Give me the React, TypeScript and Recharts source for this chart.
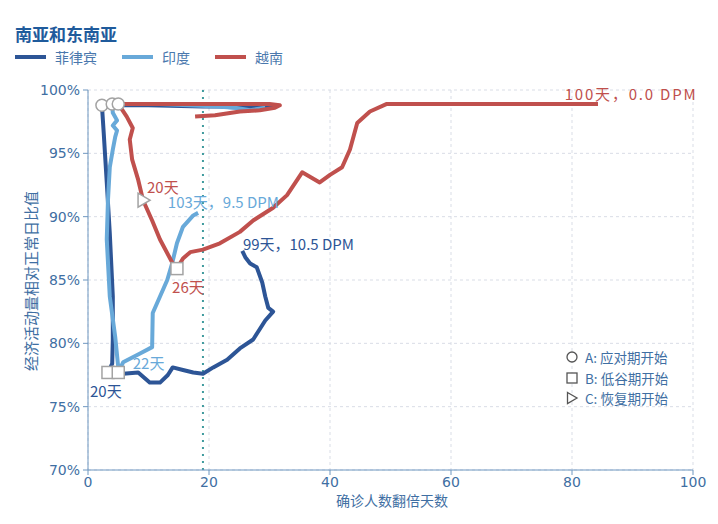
import React from 'react';
import { ComposedChart, Line, Scatter, XAxis, YAxis, CartesianGrid, ReferenceLine } from 'recharts';

const xTicks = [0, 20, 40, 60, 80, 100];
const yTicks = [70, 75, 80, 85, 90, 95, 100];

const philippines = [
  { x: 31.4, y: 98.8 }, { x: 28.4, y: 98.6 }, { x: 25.1, y: 98.6 }, { x: 21.8, y: 98.7 },
  { x: 19.0, y: 98.7 }, { x: 10.0, y: 98.8 }, { x: 2.3, y: 98.8 },
  { x: 2.6, y: 96.6 }, { x: 3.1, y: 92.7 }, { x: 3.6, y: 88.7 }, { x: 4.1, y: 83.7 },
  { x: 4.1, y: 80.3 }, { x: 4.0, y: 78.4 }, { x: 3.3, y: 77.7 },
  { x: 5.8, y: 77.6 }, { x: 8.3, y: 77.7 }, { x: 10.2, y: 76.9 }, { x: 11.9, y: 76.9 },
  { x: 13.2, y: 77.5 }, { x: 14.0, y: 78.1 }, { x: 15.7, y: 77.9 }, { x: 17.4, y: 77.7 },
  { x: 19.0, y: 77.6 }, { x: 20.7, y: 78.1 }, { x: 23.0, y: 78.7 }, { x: 25.1, y: 79.6 },
  { x: 27.3, y: 80.3 }, { x: 29.3, y: 81.8 }, { x: 30.6, y: 82.5 }, { x: 29.8, y: 82.8 },
  { x: 29.3, y: 83.7 }, { x: 28.8, y: 84.8 }, { x: 27.9, y: 86.0 }, { x: 26.8, y: 86.3 },
  { x: 26.0, y: 86.8 }, { x: 25.5, y: 87.3 },
];

const india = [
  { x: 29.3, y: 98.6 }, { x: 26.8, y: 98.4 }, { x: 24.3, y: 98.6 }, { x: 21.3, y: 98.7 },
  { x: 12.0, y: 98.9 }, { x: 4.0, y: 98.9 },
  { x: 4.1, y: 98.2 }, { x: 4.8, y: 97.6 }, { x: 4.1, y: 97.2 }, { x: 4.8, y: 96.8 },
  { x: 4.5, y: 96.3 }, { x: 4.1, y: 95.3 }, { x: 3.6, y: 93.9 }, { x: 3.3, y: 91.3 },
  { x: 3.1, y: 88.2 }, { x: 3.6, y: 83.7 }, { x: 4.5, y: 80.5 }, { x: 5.0, y: 78.1 },
  { x: 5.0, y: 77.7 },
  { x: 5.8, y: 78.5 }, { x: 8.6, y: 79.2 }, { x: 10.6, y: 79.7 }, { x: 10.7, y: 82.4 },
  { x: 11.9, y: 83.7 }, { x: 13.1, y: 85.0 }, { x: 13.9, y: 86.3 }, { x: 14.7, y: 87.9 },
  { x: 15.7, y: 89.2 }, { x: 17.4, y: 90.1 }, { x: 18.2, y: 90.3 },
];

const vietnam = [
  { x: 17.7, y: 97.9 }, { x: 21.0, y: 98.0 }, { x: 25.1, y: 98.3 }, { x: 28.4, y: 98.4 },
  { x: 30.9, y: 98.6 }, { x: 31.7, y: 98.8 }, { x: 30.0, y: 98.9 }, { x: 18.5, y: 98.9 },
  { x: 5.0, y: 98.9 },
  { x: 6.4, y: 97.9 }, { x: 7.4, y: 97.0 }, { x: 6.9, y: 96.1 }, { x: 7.3, y: 94.5 },
  { x: 8.3, y: 92.9 }, { x: 9.1, y: 91.3 }, { x: 10.6, y: 89.7 }, { x: 11.9, y: 88.2 },
  { x: 13.9, y: 86.4 }, { x: 14.7, y: 85.9 },
  { x: 15.7, y: 86.7 }, { x: 16.9, y: 87.2 }, { x: 19.0, y: 87.4 }, { x: 21.8, y: 87.9 },
  { x: 25.1, y: 88.8 }, { x: 27.3, y: 89.7 }, { x: 30.6, y: 90.7 }, { x: 32.9, y: 91.7 },
  { x: 35.4, y: 93.5 }, { x: 38.3, y: 92.7 }, { x: 40.0, y: 93.3 }, { x: 42.0, y: 93.9 },
  { x: 43.3, y: 95.3 }, { x: 44.5, y: 97.4 }, { x: 46.6, y: 98.3 }, { x: 49.4, y: 98.9 },
  { x: 84.3, y: 98.9 },
];

const pointsA = [{ x: 2.3, y: 98.8 }, { x: 4.0, y: 98.9 }, { x: 5.0, y: 98.9 }];
const pointsB = [{ x: 3.3, y: 77.7 }, { x: 5.0, y: 77.7 }, { x: 14.7, y: 85.9 }];
const pointsC = [{ x: 9.1, y: 91.3 }];

const annotations = [
  { x: 9.75, y: 92.4, text: '20天', series: 'vn' },
  { x: 13.2, y: 91.16, text: '103天，9.5 DPM', series: 'in' },
  { x: 25.6, y: 87.9, text: '99天，10.5 DPM', series: 'ph' },
  { x: 13.9, y: 84.45, text: '26天', series: 'vn' },
  { x: 7.4, y: 78.5, text: '22天', series: 'in' },
  { x: 0.33, y: 76.3, text: '20天', series: 'ph' },
  { x: 78.8, y: 99.76, text: '100天，0.0 DPM', series: 'vn' },
];

const COLORS: Record<string, string> = { ph: '#2d5596', in: '#68a9d9', vn: '#c0504d' };
const seriesNames = [
  { key: 'ph', name: '菲律宾' },
  { key: 'in', name: '印度' },
  { key: 'vn', name: '越南' },
];
const markerLegend = ['A: 应对期开始', 'B: 低谷期开始', 'C: 恢复期开始'];

const FONT = '"Noto Sans CJK SC", "Noto Sans", sans-serif';
const AXIS = '#6f97c0';
const TICK = '#3f6fa3';
const MARK = '#a3a3a3';

const circleShape = (p: any) => (
  <circle cx={p.cx} cy={p.cy} r={6} fill="#fff" stroke={MARK} strokeWidth={1.5} />
);
const squareShape = (p: any) => (
  <rect x={p.cx - 6} y={p.cy - 6} width={12} height={12} fill="#fff" stroke={MARK} strokeWidth={1.5} />
);
const triShape = (p: any) => (
  <path d={`M${p.cx - 5},${p.cy - 7} L${p.cx + 7},${p.cy} L${p.cx - 5},${p.cy + 7} Z`} fill="#fff" stroke={MARK} strokeWidth={1.5} />
);
const labelShape = (p: any) => {
  const a = p.payload;
  const big = a.text.startsWith('100天');
  return (
    <text x={p.cx} y={p.cy} dominantBaseline="central" fill={COLORS[a.series]} fontSize={15} letterSpacing={big ? 1.8 : 0} fontFamily={FONT}>
      {a.text}
    </text>
  );
};

export default function App() {
  return (
    <div style={{ position: 'absolute', left: 0, top: 0, width: 718, height: 524, background: '#fff', fontFamily: FONT }}>
      <div style={{ position: 'absolute', left: 15, top: 21, fontSize: 17, fontWeight: 700, color: '#1f5b9c' }}>南亚和东南亚</div>
      {seriesNames.map((s, i) => {
        const lx = [15, 122, 215][i];
        return (
          <div key={s.key} style={{ position: 'absolute', left: lx, top: 47, height: 20, display: 'flex', alignItems: 'center' }}>
            <div style={{ width: 31, height: 4, background: COLORS[s.key], marginRight: 9 }} />
            <span style={{ fontSize: 14, color: '#4a78ad' }}>{s.name}</span>
          </div>
        );
      })}
      <ComposedChart width={718} height={524} margin={{ top: 90, right: 25, bottom: 24, left: 28 }}>
        <CartesianGrid stroke="#d9dde6" strokeDasharray="3 3" />
        <XAxis
          type="number"
          dataKey="x"
          domain={[0, 100]}
          ticks={xTicks}
          height={30}
          tickSize={5}
          stroke={AXIS}
          tick={{ fill: TICK, fontSize: 14, fontFamily: 'DejaVu Sans' }}
        />
        <YAxis
          type="number"
          dataKey="y"
          domain={[70, 100]}
          ticks={yTicks}
          width={60}
          tickSize={5}
          tickMargin={3}
          stroke={AXIS}
          tickFormatter={(v: number) => `${v}%`}
          tick={{ fill: TICK, fontSize: 14, fontFamily: 'DejaVu Sans' }}
        />
        <ReferenceLine x={19} stroke="#3f9b9e" strokeWidth={2} strokeDasharray="2 5" />
        <Line data={philippines} dataKey="y" type="linear" stroke={COLORS.ph} strokeWidth={4} dot={false} activeDot={false} isAnimationActive={false} strokeLinejoin="round" />
        <Line data={india} dataKey="y" type="linear" stroke={COLORS.in} strokeWidth={4} dot={false} activeDot={false} isAnimationActive={false} strokeLinejoin="round" />
        <Line data={vietnam} dataKey="y" type="linear" stroke={COLORS.vn} strokeWidth={4} dot={false} activeDot={false} isAnimationActive={false} strokeLinejoin="round" />
        <Scatter data={pointsA} dataKey="y" shape={circleShape} isAnimationActive={false} />
        <Scatter data={pointsB} dataKey="y" shape={squareShape} isAnimationActive={false} />
        <Scatter data={pointsC} dataKey="y" shape={triShape} isAnimationActive={false} />
        <Scatter data={annotations} dataKey="y" shape={labelShape} isAnimationActive={false} />
      </ComposedChart>
      <div style={{ position: 'absolute', left: 30, top: 281, transform: 'translate(-50%, -50%) rotate(-90deg)', fontSize: 15, color: '#3f6fa3', whiteSpace: 'nowrap' }}>
        经济活动量相对正常日比值
      </div>
      <div style={{ position: 'absolute', left: 392, top: 500, transform: 'translate(-50%, -50%)', fontSize: 14, color: '#3f6fa3', whiteSpace: 'nowrap' }}>
        确诊人数翻倍天数
      </div>
      {markerLegend.map((t, i) => (
        <div key={t} style={{ position: 'absolute', left: 565, top: 347 + i * 20.5, height: 20, display: 'flex', alignItems: 'center' }}>
          <svg width={14} height={14} style={{ marginRight: 6 }}>
            {i === 0 && <circle cx={7} cy={7} r={5} fill="#fff" stroke="#555" strokeWidth={1.3} />}
            {i === 1 && <rect x={2} y={2} width={10} height={10} fill="#fff" stroke="#555" strokeWidth={1.3} />}
            {i === 2 && <path d="M2.5,1.5 L12,7 L2.5,12.5 Z" fill="#fff" stroke="#555" strokeWidth={1.3} />}
          </svg>
          <span style={{ fontSize: 13.5, color: '#3f6fa3' }}>{t}</span>
        </div>
      ))}
    </div>
  );
}
